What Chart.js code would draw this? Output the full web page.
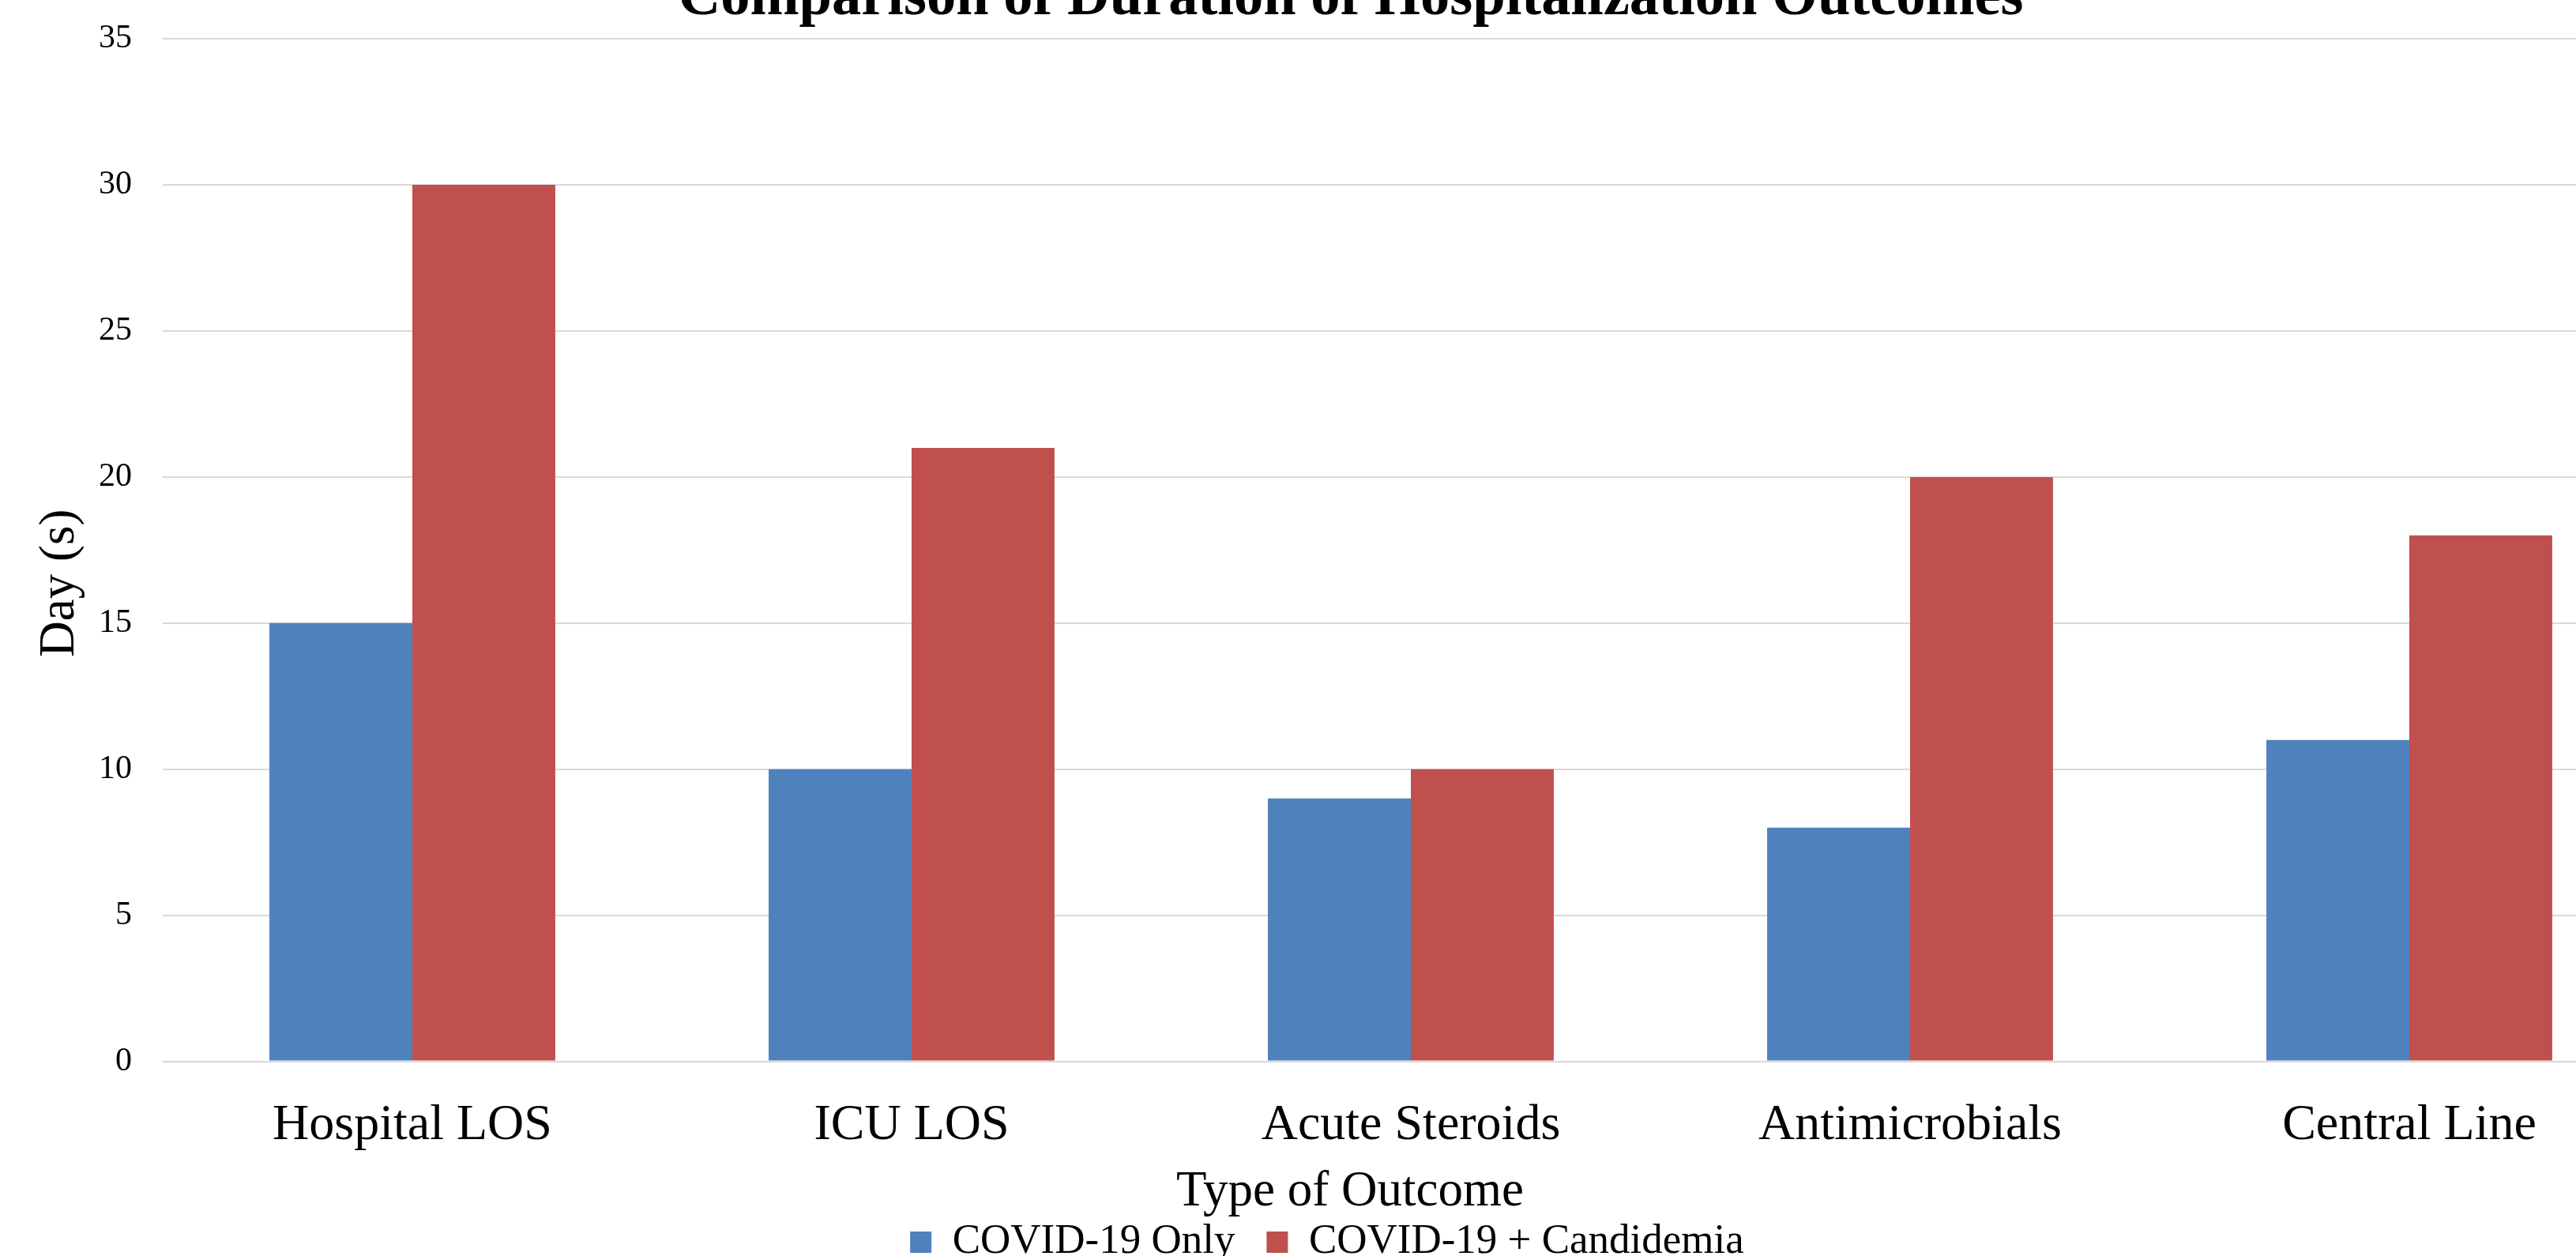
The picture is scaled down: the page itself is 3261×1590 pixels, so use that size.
<!DOCTYPE html>
<html>
<head>
<meta charset="utf-8">
<script src="https://cdn.jsdelivr.net/npm/chart.js@4.4.1/dist/chart.umd.min.js"></script>
<style>
  html, body { margin: 0; padding: 0; width: 3261px; height: 1590px; overflow: hidden; background: #ffffff; }
  #wrap { position: absolute; left: -6px; top: -15px; width: 3426px; height: 1624px; }
</style>
</head>
<body>
<div id="wrap"><canvas id="c"></canvas></div>
<script>
// ---- data ----
const categories = ['Hospital LOS', 'ICU LOS', 'Acute Steroids', 'Antimicrobials', 'Central Line'];
const covidOnly = [15, 10, 9, 8, 11];
const covidCandidemia = [30, 21, 10, 20, 18];
const seriesNames = ['COVID-19 Only', 'COVID-19 + Candidemia'];
const yTicks = [0, 5, 10, 15, 20, 25, 30, 35];
const chartTitle = 'Comparison of Duration of Hospitalization Outcomes';
const xAxisTitle = 'Type of Outcome';
const yAxisTitle = 'Day (s)';

// ---- styling ----
const FONT = '"Liberation Serif", "Times New Roman", Times, serif';
const BLUE = '#4F81BD';
const RED = '#C0504D';
Chart.defaults.color = '#000000';
Chart.defaults.font.family = FONT;

const titlesPlugin = {
  id: 'titles',
  afterDraw(chart) {
    const ctx = chart.ctx;
    const a = chart.chartArea;
    ctx.save();
    ctx.fillStyle = '#000000';
    ctx.textAlign = 'center';
    ctx.textBaseline = 'alphabetic';
    // chart title
    ctx.font = 'bold 74.5px ' + FONT;
    ctx.fillText(chartTitle, a.left + 1504, a.top - 31);
    // x axis title
    ctx.font = '63px ' + FONT;
    ctx.fillText(xAxisTitle, a.left + 1503, a.bottom + 182);
    // y axis title
    ctx.translate(a.left - 113, a.top + 689);
    ctx.rotate(-Math.PI / 2);
    ctx.font = '63px ' + FONT;
    ctx.fillText(yAxisTitle, 0, 0);
    ctx.restore();
  }
};

new Chart(document.getElementById('c'), {
  type: 'bar',
  data: {
    labels: categories,
    datasets: [
      { label: seriesNames[0], data: covidOnly, backgroundColor: BLUE, borderWidth: 0,
        categoryPercentage: 0.5726, barPercentage: 1.0 },
      { label: seriesNames[1], data: covidCandidemia, backgroundColor: RED, borderWidth: 0,
        categoryPercentage: 0.5726, barPercentage: 1.0 }
    ]
  },
  options: {
    responsive: true,
    maintainAspectRatio: false,
    animation: false,
    layout: { padding: { left: 0, right: 54, top: 33, bottom: 0 } },
    plugins: {
      title: { display: false },
      legend: {
        display: true,
        position: 'bottom',
        labels: {
          font: { family: FONT, size: 53 },
          color: '#000000',
          boxWidth: 27,
          boxHeight: 27,
          padding: 40
        }
      },
      tooltip: { enabled: false }
    },
    scales: {
      x: {
        grid: { display: false },
        border: { display: false },
        ticks: { font: { family: FONT, size: 64 }, color: '#000000', padding: 35, maxRotation: 0 },
        afterFit(scale) { scale.height = 162.5; }
      },
      y: {
        min: 0,
        max: 35,
        afterBuildTicks(scale) { scale.ticks = yTicks.map(v => ({ value: v })); },
        grid: { color: '#d9d9d9', lineWidth: 2, drawTicks: false },
        border: { display: false },
        ticks: { font: { family: FONT, size: 42 }, color: '#000000', padding: 39 },
        afterFit(scale) { scale.width = 212; }
      }
    }
  },
  plugins: [titlesPlugin]
});
</script>
</body>
</html>
